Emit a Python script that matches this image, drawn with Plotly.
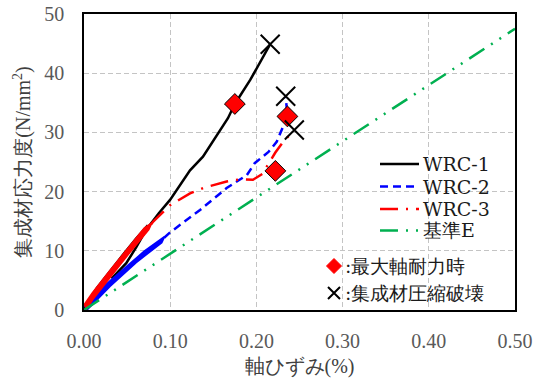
import plotly.graph_objects as go

# ---------------- data ----------------
# WRC-1 (solid black), includes small unload/reload loop near 14 N/mm2
wrc1_strain = [0, 0.005, 0.015, 0.03, 0.045, 0.06, 0.074, 0.061, 0.049, 0.032, 0.049, 0.061, 0.073,
               0.0766, 0.0870, 0.0998, 0.1075, 0.123, 0.138, 0.154, 0.167, 0.175, 0.193, 0.216]
wrc1_stress = [0, 1.5, 3.7, 6.6, 9.3, 12.0, 14.3, 10.7, 7.9, 5.3, 7.9, 10.7, 13.8,
               14.4, 16.4, 18.6, 20.3, 23.6, 25.9, 29.5, 32.4, 34.8, 38.9, 44.9]

# WRC-2 (blue dashed); dense noisy initial band + later curve
wrc2_band_strain = [0, 0.02, 0.05, 0.07, 0.093, 0.09, 0.06, 0.03, 0.01, 0.003]
wrc2_band_stress = [0.6, 3.6, 7.4, 9.9, 12.3, 11.4, 8.0, 4.0, 1.0, 0]
wrc2_strain = [0.093, 0.0998, 0.1346, 0.1655, 0.189, 0.198, 0.214, 0.2235, 0.231, 0.236, 0.234]
wrc2_stress = [12.2, 13.1, 16.9, 20.6, 22.8, 24.8, 26.7, 28.4, 31.0, 32.7, 36.1]

# WRC-3 (red long-dash-dot)
wrc3_band_strain = [0, 0.01, 0.03, 0.05, 0.07, 0.078, 0.075, 0.05, 0.03, 0.01, 0.002]
wrc3_band_stress = [0.8, 2.9, 6.6, 10.2, 13.8, 14.6, 13.6, 9.2, 5.6, 1.8, 0]
wrc3_strain = [0.078, 0.080, 0.0998, 0.113, 0.123, 0.140, 0.154, 0.1655, 0.183, 0.196, 0.207,
               0.213, 0.222, 0.231, 0.244]
wrc3_stress = [14.5, 14.9, 17.7, 18.9, 19.7, 20.7, 21.2, 21.7, 22.1, 22.0, 23.0,
               24.5, 26.6, 28.4, 30.4]

# 基準E (reference modulus line)
ref_strain = [0, 0.5]
ref_stress = [0, 47.5]

# characteristic points
maxload_strain = [0.175, 0.236, 0.222]
maxload_stress = [34.8, 32.7, 23.5]
failure_strain = [0.216, 0.234, 0.244]
failure_stress = [44.9, 36.1, 30.4]

x_ticks = [0, 0.1, 0.2, 0.3, 0.4, 0.5]
x_ticklabels = ["0.00", "0.10", "0.20", "0.30", "0.40", "0.50"]
y_ticks = [0, 10, 20, 30, 40, 50]

series_names = ["WRC-1", "WRC-2", "WRC-3", "基準E"]
marker_labels = [":最大軸耐力時", ":集成材圧縮破壊"]

# ---------------- styles ----------------
FONT_TICK = "Liberation Serif"
FONT_LEG = "DejaVu Serif"
FONT_TITLE = "Times New Roman"
BLACK = "#000000"
BLUE = "#0000ff"
RED = "#ff0000"
GREEN = "#00b050"
DASH_BLUE = "8px,5px"
DASH_RED = "18px,8px,2px,8px"
DASH_GREEN = "18px,8px,2px,8px,2px,8px"

fig = go.Figure()

fig.add_trace(go.Scatter(x=wrc1_strain, y=wrc1_stress, mode="lines", name=series_names[0],
                         line=dict(color=BLACK, width=2.5), showlegend=False))
fig.add_trace(go.Scatter(x=wrc2_band_strain, y=wrc2_band_stress, mode="lines", fill="toself",
                         fillcolor=BLUE, line=dict(color=BLUE, width=2), showlegend=False))
fig.add_trace(go.Scatter(x=wrc2_strain, y=wrc2_stress, mode="lines", name=series_names[1],
                         line=dict(color=BLUE, width=2.5, dash=DASH_BLUE), showlegend=False))
fig.add_trace(go.Scatter(x=wrc3_band_strain, y=wrc3_band_stress, mode="lines", fill="toself",
                         fillcolor=RED, line=dict(color=RED, width=2), showlegend=False))
fig.add_trace(go.Scatter(x=wrc3_strain, y=wrc3_stress, mode="lines", name=series_names[2],
                         line=dict(color=RED, width=2.5, dash=DASH_RED), showlegend=False))
fig.add_trace(go.Scatter(x=ref_strain, y=ref_stress, mode="lines", name=series_names[3],
                         line=dict(color=GREEN, width=2.5, dash=DASH_GREEN), showlegend=False))
fig.add_trace(go.Scatter(x=maxload_strain, y=maxload_stress, mode="markers", showlegend=False,
                         marker=dict(symbol="diamond", size=16, color=RED,
                                     line=dict(color=BLACK, width=1))))
fig.add_trace(go.Scatter(x=failure_strain, y=failure_stress, mode="markers", showlegend=False,
                         marker=dict(symbol="x-thin", size=19,
                                     line=dict(color=BLACK, width=2))))

# ---------------- layout / custom legend ----------------
W, H = 533, 380
L, R, T, B = 84, 18, 14, 70
pw, ph = W - L - R, H - T - B


def px2paper(xp, yp):
    return (xp - L) / pw, (H - B - yp) / ph


shapes = []
annotations = []
leg_rows_y = [164, 186.5, 209, 230.5]
leg_styles = [(BLACK, "solid"), (BLUE, DASH_BLUE), (RED, DASH_RED), (GREEN, DASH_GREEN)]
for name, yy, (col, dsh) in zip(series_names, leg_rows_y, leg_styles):
    x0, y0 = px2paper(380, yy)
    x1, _ = px2paper(419, yy)
    shapes.append(dict(type="line", xref="paper", yref="paper", x0=x0, x1=x1, y0=y0, y1=y0,
                       line=dict(color=col, width=2.5, dash=dsh)))
    tx, _ = px2paper(421, yy)
    annotations.append(dict(xref="paper", yref="paper", x=tx, y=y0, xanchor="left",
                            yanchor="middle", showarrow=False, text=name,
                            font=dict(family=FONT_LEG, size=19, color="#1a1a1a")))

mk_rows = [266, 293]
for i, yy in enumerate(mk_rows):
    ax, ay = px2paper(334, yy)
    if i == 0:
        path = "M -7.5 0 L 0 7.5 L 7.5 0 L 0 -7.5 Z"
        shapes.append(dict(type="path", xref="paper", yref="paper", xsizemode="pixel",
                           ysizemode="pixel", xanchor=ax, yanchor=ay, path=path,
                           fillcolor=RED, line=dict(color=RED, width=1)))
    else:
        path = "M -6 -6 L 6 6 M -6 6 L 6 -6"
        shapes.append(dict(type="path", xref="paper", yref="paper", xsizemode="pixel",
                           ysizemode="pixel", xanchor=ax, yanchor=ay, path=path,
                           line=dict(color=BLACK, width=2)))
    tx, _ = px2paper(343, yy)
    annotations.append(dict(xref="paper", yref="paper", x=tx, y=ay, xanchor="left",
                            yanchor="middle", showarrow=False, text=marker_labels[i],
                            font=dict(family=FONT_LEG, size=19, color="#1a1a1a")))

grid = dict(showgrid=True, gridcolor="#c4c4c4", griddash="5px,3px", gridwidth=1)

fig.update_layout(
    width=W, height=H,
    margin=dict(l=L, r=R, t=T, b=B, autoexpand=False),
    paper_bgcolor="white", plot_bgcolor="white",
    showlegend=False,
    font=dict(family=FONT_TICK, size=20, color="#595959"),
    shapes=shapes,
    annotations=annotations,
    xaxis=dict(range=[0, 0.5], tickvals=x_ticks, ticktext=x_ticklabels, showline=True,
               linecolor=BLACK, linewidth=1.5, mirror=True, zeroline=False, ticks="",
               ticklabelstandoff=12, automargin=False,
               tickfont=dict(family=FONT_TICK, size=20, color="#595959"),
               title=dict(text="軸ひずみ(%)", standoff=8,
                          font=dict(family=FONT_TITLE, size=20, color="#404040")),
               **grid),
    yaxis=dict(range=[0, 50], tickvals=y_ticks, showline=True, linecolor=BLACK,
               linewidth=1.5, mirror=True, zeroline=False, ticks="", ticklabelstandoff=14,
               automargin=False,
               tickfont=dict(family=FONT_TICK, size=20, color="#595959"),
               title=dict(text="集成材応力度(N/mm<sup>2</sup>)", standoff=8,
                          font=dict(family=FONT_TITLE, size=20, color="#404040")),
               **grid),
)

fig.write_html("out.html")
